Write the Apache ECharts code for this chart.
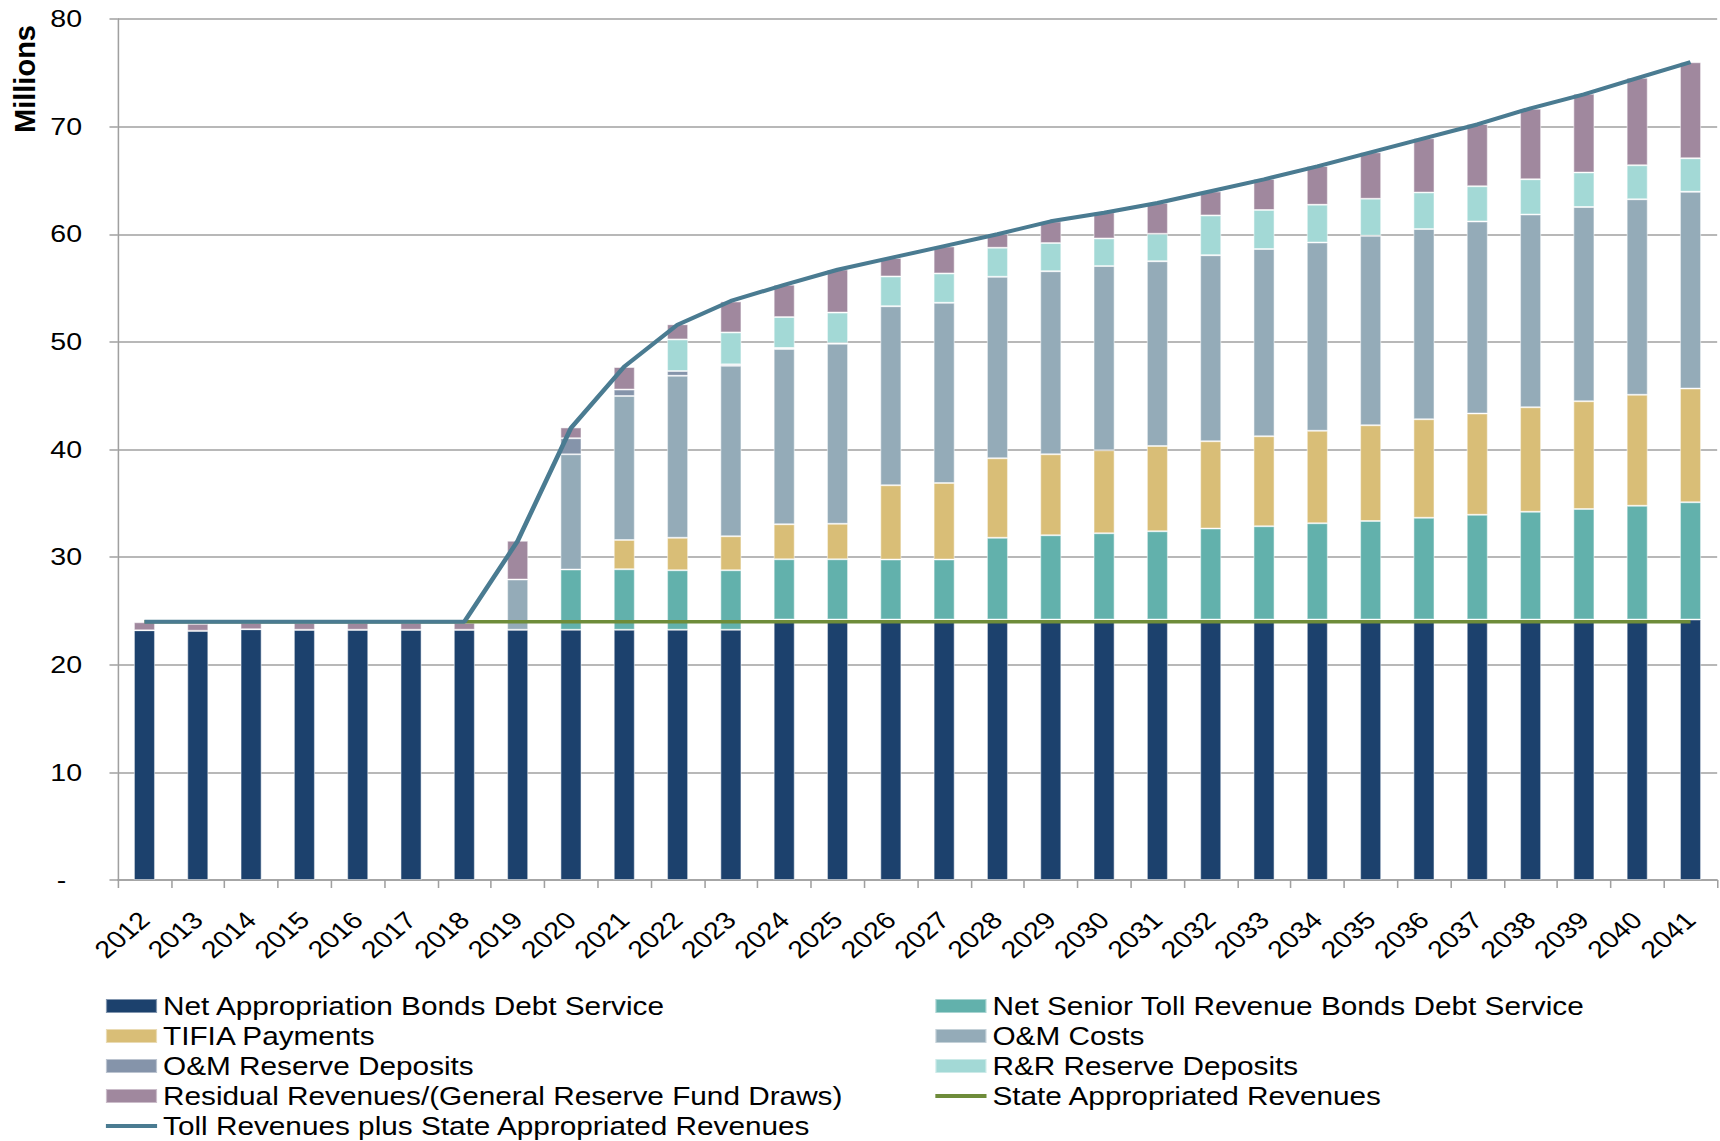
<!DOCTYPE html>
<html>
<head>
<meta charset="utf-8">
<script src="https://cdn.jsdelivr.net/npm/echarts@6/dist/echarts.min.js"></script>
<style>
  html, body { margin: 0; padding: 0; background: #ffffff; overflow: hidden; }
  /* the source picture is stretched sideways, so the chart is drawn narrower and widened */
  #chart { width: 1446px; height: 1141px; transform: scaleX(1.19); transform-origin: 0 0; }
</style>
</head>
<body>
<div id="chart"></div>
<script>
// years on the x axis
const years = ['2012', '2013', '2014', '2015', '2016', '2017', '2018', '2019', '2020', '2021',
  '2022', '2023', '2024', '2025', '2026', '2027', '2028', '2029', '2030', '2031',
  '2032', '2033', '2034', '2035', '2036', '2037', '2038', '2039', '2040', '2041'];

// stacked bar pieces, $ millions, bottom to top
const netAppropriation = [23.2, 23.15, 23.3, 23.25, 23.25, 23.25, 23.25, 23.25, 23.25, 23.25,
  23.25, 23.25, 24.2, 24.2, 24.2, 24.2, 24.2, 24.2, 24.2, 24.2,
  24.2, 24.2, 24.2, 24.2, 24.2, 24.2, 24.2, 24.2, 24.2, 24.2];
const netSeniorToll = [0, 0, 0, 0, 0, 0, 0, 0, 5.6, 5.63,
  5.53, 5.53, 5.6, 5.6, 5.57, 5.57, 7.61, 7.83, 8.02, 8.2,
  8.45, 8.67, 8.95, 9.16, 9.45, 9.73, 10.02, 10.27, 10.58, 10.9];
const tifia = [0, 0, 0, 0, 0, 0, 0, 0, 0, 2.72,
  3.02, 3.16, 3.25, 3.3, 6.91, 7.12, 7.37, 7.53, 7.71, 7.93,
  8.11, 8.35, 8.6, 8.89, 9.16, 9.42, 9.7, 10.02, 10.31, 10.56];
const omCosts = [0, 0, 0, 0, 0, 0, 0, 4.67, 10.7, 13.37,
  15.06, 15.85, 16.29, 16.73, 16.64, 16.75, 16.87, 17.01, 17.11, 17.17,
  17.3, 17.41, 17.48, 17.62, 17.67, 17.84, 17.91, 18.05, 18.16, 18.3];
const omReserve = [0, 0, 0, 0, 0, 0, 0, 0, 1.5, 0.6,
  0.43, 0.12, 0.1, 0.05, 0, 0, 0, 0, 0, 0,
  0, 0, 0, 0, 0, 0, 0, 0, 0, 0];
const rrReserve = [0, 0, 0, 0, 0, 0, 0, 0, 0, 0,
  2.94, 2.97, 2.86, 2.84, 2.76, 2.72, 2.7, 2.61, 2.57, 2.54,
  3.69, 3.63, 3.52, 3.44, 3.41, 3.27, 3.27, 3.2, 3.16, 3.09];
const residual = [0.75, 0.65, 0.6, 0.65, 0.65, 0.65, 0.65, 3.6, 1.0, 2.09,
  1.4, 2.88, 3.01, 4.01, 1.72, 2.51, 1.29, 2.01, 2.44, 2.88,
  2.23, 2.87, 3.59, 4.31, 5.04, 5.79, 6.57, 7.31, 8.12, 8.92];

// lines
const stateAppropriated = [24, 24, 24, 24, 24, 24, 24, 24, 24, 24,
  24, 24, 24, 24, 24, 24, 24, 24, 24, 24,
  24, 24, 24, 24, 24, 24, 24, 24, 24, 24];
const tollPlusState = [24, 24, 24, 24, 24, 24, 24, 31.5, 42.0, 47.7,
  51.6, 53.8, 55.3, 56.7, 57.8, 58.9, 60.0, 61.2, 62.0, 62.9,
  64.0, 65.1, 66.3, 67.6, 68.9, 70.2, 71.7, 73.0, 74.5, 76.0];

const FONT = "'Liberation Sans', Arial, sans-serif";
const STRETCH = 1.19;

const chart = echarts.init(document.getElementById('chart'), null, { renderer: 'svg' });

function barSeries(name, data, color) {
  return {
    name: name,
    type: 'bar',
    stack: 'uses',
    data: data,
    barWidth: '40%',
    itemStyle: { color: color, borderColor: 'rgba(255,255,255,0.45)', borderWidth: 1 },
    emphasis: { disabled: true }
  };
}

const legendText = { fontSize: 25, lineHeight: 30, color: '#000', fontFamily: FONT };

const option = {
  backgroundColor: '#ffffff',
  animation: false,
  textStyle: { fontFamily: FONT },
  graphic: [{
    type: 'text',
    left: 9,
    top: 25,
    rotation: Math.PI / 2,
    scaleY: 1 / STRETCH, // keep the rotated title from getting thicker
    style: { text: 'Millions', font: 'bold 29px ' + FONT, fill: '#000' }
  }],
  legend: [
    {
      orient: 'vertical',
      left: 87,
      top: 991,
      padding: 0,
      itemGap: 0,
      itemWidth: 43,
      itemHeight: 14,
      textStyle: legendText,
      data: [
        { name: 'Net Appropriation Bonds Debt Service', icon: 'rect' },
        { name: 'TIFIA Payments', icon: 'rect' },
        { name: 'O&M Reserve Deposits', icon: 'rect' },
        { name: 'Residual Revenues/(General Reserve Fund Draws)', icon: 'rect' },
        { name: 'Toll Revenues plus State Appropriated Revenues', itemStyle: { opacity: 0 }, lineStyle: { width: 4 } }
      ]
    },
    {
      orient: 'vertical',
      left: 784,
      top: 991,
      padding: 0,
      itemGap: 0,
      itemWidth: 43,
      itemHeight: 14,
      textStyle: legendText,
      data: [
        { name: 'Net Senior Toll Revenue Bonds Debt Service', icon: 'rect' },
        { name: 'O&M Costs', icon: 'rect' },
        { name: 'R&R Reserve Deposits', icon: 'rect' },
        { name: 'State Appropriated Revenues', itemStyle: { opacity: 0 }, lineStyle: { width: 4 } }
      ]
    }
  ],
  grid: { left: 99, right: 3, top: 19, bottom: 261 },
  xAxis: {
    type: 'category',
    data: years,
    axisLine: { lineStyle: { color: '#a0a0a0', width: 1.5 } },
    axisTick: { show: true, length: 8, lineStyle: { color: '#a0a0a0', width: 1.3 } },
    axisLabel: { rotate: 45, fontSize: 24, color: '#000', margin: 36, interval: 0, fontFamily: FONT }
  },
  yAxis: {
    type: 'value',
    min: 0,
    max: 80,
    interval: 10,
    axisLine: { show: true, lineStyle: { color: '#a0a0a0', width: 1.3 } },
    axisTick: { show: true, length: 7, lineStyle: { color: '#a0a0a0', width: 1.5 } },
    axisLabel: {
      fontSize: 24,
      color: '#000',
      margin: 30,
      fontFamily: FONT,
      formatter: (v) => (v === 0 ? '-  ' : String(v))
    },
    splitLine: { lineStyle: { color: '#a0a0a0', width: 1.5 } }
  },
  series: [
    barSeries('Net Appropriation Bonds Debt Service', netAppropriation, '#1c416d'),
    barSeries('Net Senior Toll Revenue Bonds Debt Service', netSeniorToll, '#62b1ac'),
    barSeries('TIFIA Payments', tifia, '#d9be77'),
    barSeries('O&M Costs', omCosts, '#94abb8'),
    barSeries('O&M Reserve Deposits', omReserve, '#8594aa'),
    barSeries('R&R Reserve Deposits', rrReserve, '#a3d9d6'),
    barSeries('Residual Revenues/(General Reserve Fund Draws)', residual, '#a0889e'),
    {
      name: 'State Appropriated Revenues',
      type: 'line',
      data: stateAppropriated,
      symbol: 'none',
      lineStyle: { color: '#6e8c3a', width: 3.5 },
      itemStyle: { color: '#6e8c3a' },
      emphasis: { disabled: true },
      z: 3
    },
    {
      name: 'Toll Revenues plus State Appropriated Revenues',
      type: 'line',
      data: tollPlusState,
      symbol: 'none',
      lineStyle: { color: '#4a7b91', width: 4 },
      itemStyle: { color: '#4a7b91' },
      emphasis: { disabled: true },
      z: 4
    }
  ]
};

chart.setOption(option);
</script>
</body>
</html>
